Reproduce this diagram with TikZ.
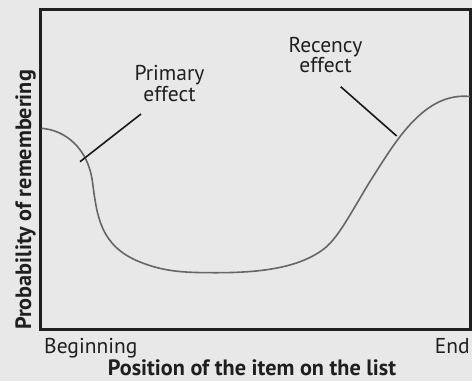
\documentclass[tikz,border=0pt]{standalone}
\usepackage{fontspec}
\setmainfont{PT Sans}
\begin{document}
\begin{tikzpicture}[x=1pt,y=-1pt,
  label/.style={inner sep=0pt,anchor=base,text=black!88,font=\fontsize{21.5}{23}\selectfont},
  axislabel/.style={label,font=\fontsize{22.2}{24}\selectfont\bfseries},
  frame/.style={draw=black!88,line width=2.4pt},
  curve/.style={draw=black!60,line width=1.6pt},
  pointer/.style={draw=black!90,line width=1.6pt}]
  % background
  \fill[black!9] (0,0) rectangle (472,381);
  \useasboundingbox (0,0) rectangle (472,381);
  % plot frame
  \draw[frame] (40.5,9.5) rectangle (470.5,329.5);
  % serial position curve
  \draw[curve] (41.5,128.3)
    .. controls (65,130) and (88,148) .. (92.5,182)
    .. controls (97,216) and (100,246) .. (140,262)
    .. controls (165,272) and (185,272.7) .. (216.7,272.7)
    .. controls (260,272.7) and (300,268) .. (325,248)
    .. controls (340,236) and (355,205) .. (373,176.7)
    .. controls (397,139) and (425,92) .. (470,96.5);
  % labels
  \node[label] (prim1) at (169.5,80.5) {Primary};
  \node[label] (prim2) at (169.5,101.5) {effect};
  \node[label] (rec1) at (325.5,52) {Recency};
  \node[label] (rec2) at (325.5,72) {effect};
  \node[label,anchor=base west] (beg) at (44,353) {Beginning};
  \node[label,anchor=base east] (end) at (470,353) {End};
  \node[axislabel] (xlab) at (252,375.5) {Position of the item on the list};
  \node[axislabel,rotate=90] (ylab) at (31,200) {Probability of remembering};
  % pointers to the curve
  \coordinate (ptip) at (80,161.7);
  \coordinate (pend) at (141,114);
  \coordinate (rtip) at (396.7,136);
  \coordinate (rend) at (340.7,86.7);
  \draw[pointer] (pend) -- (ptip);
  \draw[pointer] (rend) -- (rtip);
\end{tikzpicture}
\end{document}
